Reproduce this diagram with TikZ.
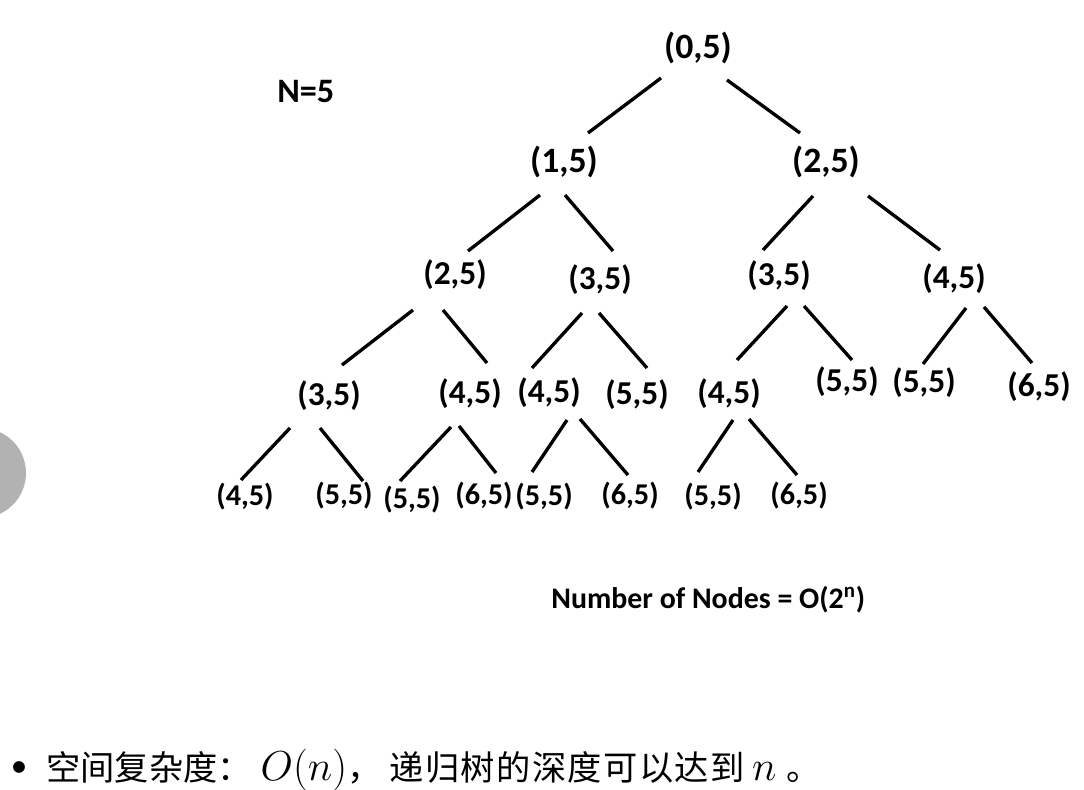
\RequirePackage{fix-cm}
\documentclass[tikz,border=0pt]{standalone}
\usepackage{fontspec}
\newfontfamily\calibri{Carlito}
\newfontfamily\cjk{Noto Sans CJK SC}
\newfontfamily\cjkwide{Noto Sans CJK SC}[LetterSpace=4]

\tikzset{
  pairA/.style={font=\calibri\bfseries\fontsize{20.3}{24}\selectfont, inner sep=0pt},
  pairB/.style={font=\calibri\bfseries\fontsize{19}{23}\selectfont, inner sep=0pt},
  pairC/.style={font=\calibri\bfseries\fontsize{17.2}{21}\selectfont, inner sep=0pt},
  lbl/.style={font=\calibri\bfseries\fontsize{17}{21}\selectfont, inner sep=0pt},
  link/.style={line width=1.9pt}
}

\begin{document}
\begin{tikzpicture}[x=0.02cm,y=-0.02cm]

  % page
  \clip (0,0) rectangle (1084,790);
  \fill[white] (0,0) rectangle (1084,790);

  % grey marker at the left edge
  \fill[gray!60] (-19,473) circle[radius=45];

  \node[lbl, font=\calibri\bfseries\fontsize{19.5}{23}\selectfont, anchor=base west] (nval) at (277,103) {N=5};

  % recursion tree
  \node[pairA] (r) at (698,48) {(0,5)};

  \node[pairA] (a1) at (564,162) {(1,5)};
  \node[pairA] (a2) at (826,162) {(2,5)};

  \node[pairB] (b1) at (455,275) {(2,5)};
  \node[pairB] (b2) at (600,280) {(3,5)};
  \node[pairB] (b3) at (779,276) {(3,5)};
  \node[pairB] (b4) at (954,279) {(4,5)};

  \node[pairB] (c1) at (329,396) {(3,5)};
  \node[pairB] (c2) at (470,394) {(4,5)};
  \node[pairB] (c3) at (549,393) {(4,5)};
  \node[pairB] (c4) at (637,395) {(5,5)};
  \node[pairB] (c5) at (729,394) {(4,5)};
  \node[pairB] (c6) at (847,382) {(5,5)};
  \node[pairB] (c7) at (924,383) {(5,5)};
  \node[pairB] (c8) at (1039,387) {(6,5)};

  \node[pairC] (d1) at (245,497) {(4,5)};
  \node[pairC] (d2) at (344,496) {(5,5)};
  \node[pairC] (d3) at (412,500) {(5,5)};
  \node[pairC] (d4) at (484,496) {(6,5)};
  \node[pairC] (d5) at (544,497) {(5,5)};
  \node[pairC] (d6) at (630,496) {(6,5)};
  \node[pairC] (d7) at (713,497) {(5,5)};
  \node[pairC] (d8) at (799,496) {(6,5)};

  % links (offsets from the node centres)
  \foreach \p/\px/\py/\c/\cx/\cy in {
      r/-37/30/a1/24/-29, r/29/32/a2/-26/-29,
      a1/-24/33/b1/13/-24, a1/1/33/b2/13/-29,
      a2/-13/34/b3/-16/-26, a2/42/34/b4/-14/-29,
      b1/-42/35/c1/13/-31, b1/-12/35/c2/17/-31,
      b2/-18/33/c3/-17/-25, b2/-1/33/c4/10/-27,
      b3/8/30/c5/8/-34, b3/25/30/c6/5/-22,
      b4/12/29/c7/-1/-19, b4/30/28/c8/-7/-24,
      c1/-39/32/d1/-4/-17, c1/-9/32/d2/19/-15,
      c2/-19/33/d3/-12/-19, c2/-11/32/d4/12/-23,
      c3/18/27/d5/-12/-25, c3/31/26/d6/-2/-21,
      c5/4/26/d7/-15/-25, c5/20/25/d8/-2/-21} {
    \draw[link] ([shift={(\px,\py)}]\p.center) -- ([shift={(\cx,\cy)}]\c.center);
  }

  \node[lbl, anchor=base west] (count) at (551,608) {Number of Nodes = O(2\textsuperscript{n})};

  % space complexity line
  \node[font=\fontsize{30}{34}\selectfont, inner sep=0pt] (dot) at (19,772) {\textbullet};
  \node[anchor=base west, inner sep=0pt, font=\fontsize{19.5}{24}\selectfont] (space) at (46,780)
    {{\cjk 空间复杂度：}\hspace{5pt}{\fontsize{23.8}{28}\selectfont$O(n)$}{\cjk ，}\hspace{4.7pt}{\cjkwide 递归树的深度可以达到}\hspace{4.3pt}{\fontsize{23.8}{28}\selectfont$n$}\hspace{5.7pt}{\cjk 。}};

\end{tikzpicture}
\end{document}
